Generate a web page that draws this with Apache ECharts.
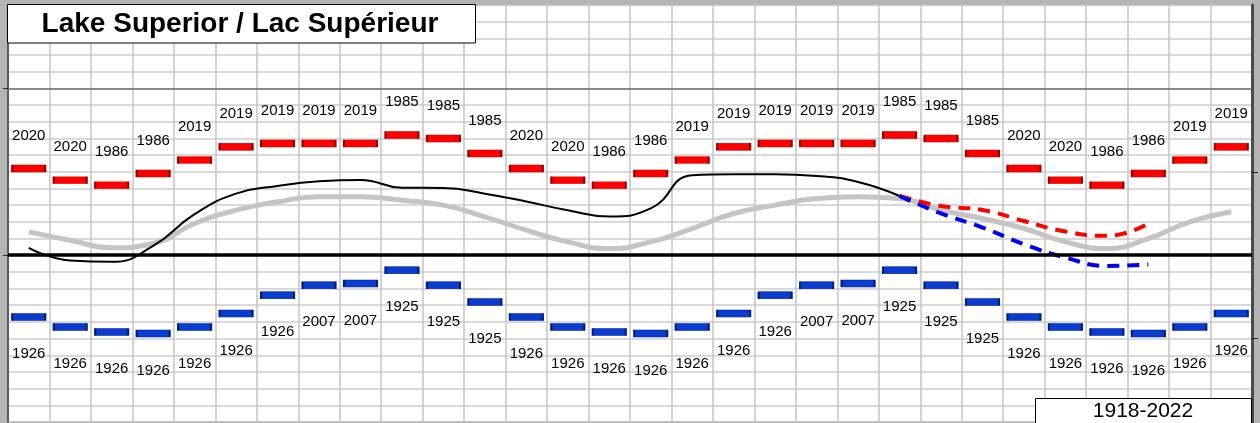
<!DOCTYPE html>
<html>
<head>
<meta charset="utf-8">
<script src="https://cdn.jsdelivr.net/npm/echarts@6/dist/echarts.min.js"></script>
<style>
html,body{margin:0;padding:0;background:#b4b4b4;}
#c{width:1260px;height:423px;}
</style>
</head>
<body>
<div id="c"></div>
<script>
// Months shown (30 columns), water levels in metres
const categories = [
  'Jan Y1','Feb Y1','Mar Y1','Apr Y1','May Y1','Jun Y1','Jul Y1','Aug Y1','Sep Y1','Oct Y1','Nov Y1','Dec Y1',
  'Jan Y2','Feb Y2','Mar Y2','Apr Y2','May Y2','Jun Y2','Jul Y2','Aug Y2','Sep Y2','Oct Y2','Nov Y2','Dec Y2',
  'Jan Y3','Feb Y3','Mar Y3','Apr Y3','May Y3','Jun Y3'
];
const recordHigh = [
  183.72,183.65,183.62,183.69,183.77,183.85,183.87,183.87,183.87,183.92,183.90,183.81,
  183.72,183.65,183.62,183.69,183.77,183.85,183.87,183.87,183.87,183.92,183.90,183.81,
  183.72,183.65,183.62,183.69,183.77,183.85
];
const recordHighYear = [
  '2020','2020','1986','1986','2019','2019','2019','2019','2019','1985','1985','1985',
  '2020','2020','1986','1986','2019','2019','2019','2019','2019','1985','1985','1985',
  '2020','2020','1986','1986','2019','2019'
];
const recordLow = [
  182.83,182.77,182.74,182.73,182.77,182.85,182.96,183.02,183.03,183.11,183.02,182.92,
  182.83,182.77,182.74,182.73,182.77,182.85,182.96,183.02,183.03,183.11,183.02,182.92,
  182.83,182.77,182.74,182.73,182.77,182.85
];
const recordLowYear = [
  '1926','1926','1926','1926','1926','1926','1926','2007','2007','1925','1925','1925',
  '1926','1926','1926','1926','1926','1926','1926','2007','2007','1925','1925','1925',
  '1926','1926','1926','1926','1926','1926'
];
const average = [
  183.34,183.29,183.245,183.27,183.39,183.47,183.52,183.55,183.55,183.53,183.50,183.43,
  183.35,183.28,183.24,183.28,183.36,183.45,183.50,183.54,183.55,183.54,183.47,183.42,
  183.36,183.28,183.24,183.30,183.40,183.46
];
const actual = [
  183.244,183.168,183.160,183.256,183.446,183.569,183.615,183.643,183.651,183.605,183.603,183.569,
  183.522,183.469,183.432,183.481,183.679,183.685,183.685,183.675,183.639,183.555,
  null,null,null,null,null,null,null,null
];
const forecastHigh = [
  null,null,null,null,null,null,null,null,null,null,null,null,
  null,null,null,null,null,null,null,null,null,183.555,
  183.495,183.471,183.405,183.342,183.316,183.390,null,null
];
const forecastLow = [
  null,null,null,null,null,null,null,null,null,null,null,null,
  null,null,null,null,null,null,null,null,null,183.555,
  183.451,183.366,183.266,183.186,183.136,183.144,null,null
];
const chartDatum = 183.2;
const majorLine = 184.2;
const leftTicks = [183.2, 184.2];
const rightTicks = [182.7, 183.7];
const titleText = 'Lake Superior / Lac Supérieur';
const periodText = '1918-2022';

const FONT = 'Arial, "Liberation Sans", sans-serif';
const chart = echarts.init(document.getElementById('c'));
chart.setOption({
  backgroundColor: '#b4b4b4',
  animation: false,
  grid: {left: 8, right: 8, top: 5, height: 417, show: true, backgroundColor: '#ffffff',
         borderColor: '#5a5a5a', borderWidth: 1},
  xAxis: {
    type: 'category', data: categories, boundaryGap: true,
    axisLine: {show: false}, axisTick: {show: false}, axisLabel: {show: false},
    splitLine: {show: true, interval: 0, lineStyle: {color: '#c4c4c4', width: 1.5}}
  },
  yAxis: [{
    type: 'value', min: 182.2, max: 184.7, interval: 0.1, position: 'left',
    axisLine: {show: true, lineStyle: {color: '#3c3c3c', width: 1.5}},
    axisTick: {show: false},
    axisLabel: {show: false},
    splitLine: {show: true, lineStyle: {color: '#cdcdcd', width: 1.5}}
  }, {
    type: 'value', min: 182.2, max: 184.7, interval: 0.1, position: 'right',
    axisLine: {show: true, lineStyle: {color: '#4a4a4a', width: 3}},
    axisTick: {show: true, customValues: rightTicks, length: 6, lineStyle: {color: '#222', width: 1}},
    axisLabel: {show: false},
    splitLine: {show: false}
  }, {
    type: 'value', min: 182.2, max: 184.7, interval: 0.1, position: 'left',
    axisLine: {show: false},
    axisTick: {show: true, customValues: leftTicks, length: 5, lineStyle: {color: '#222', width: 1}},
    axisLabel: {show: false},
    splitLine: {show: false}
  }],
  series: [
    {
      name: 'Average', type: 'line', data: average, smooth: true, symbol: 'none', z: 2,
      lineStyle: {color: '#c4c4c4', width: 5},
      markLine: {
        silent: true, symbol: 'none', label: {show: false},
        data: [
          {yAxis: majorLine, lineStyle: {color: '#6e6e6e', width: 1.5, type: 'solid'}},
          {yAxis: chartDatum, lineStyle: {color: '#000000', width: 3.5, type: 'solid'}}
        ]
      }
    },
    {
      name: 'Actual', type: 'line', data: actual, smooth: true, symbol: 'none', z: 4,
      lineStyle: {color: '#000000', width: 2}
    },
    {
      name: 'Forecast high', type: 'line', data: forecastHigh, smooth: true, symbol: 'none', z: 3,
      lineStyle: {color: '#ff0000', width: 4, type: [12, 8]}
    },
    {
      name: 'Forecast low', type: 'line', data: forecastLow, smooth: true, symbol: 'none', z: 3,
      lineStyle: {color: '#0000ee', width: 4, type: [12, 8]}
    },
    {
      name: 'Record high', type: 'scatter', data: recordHigh, symbol: 'rect', symbolSize: [33, 7], z: 5,
      itemStyle: {color: '#ff0000', borderColor: '#9a0000', borderWidth: 1, opacity: 1},
      label: {show: true, position: 'inside', offset: [0, -33], color: '#000', fontSize: 15, fontFamily: FONT,
              formatter: p => recordHighYear[p.dataIndex]}
    },
    {
      name: 'Record low', type: 'scatter', data: recordLow, symbol: 'rect', symbolSize: [33, 7], z: 5,
      itemStyle: {color: '#0a3cd2', borderColor: '#001e80', borderWidth: 1, opacity: 1},
      label: {show: true, position: 'inside', offset: [0, 37], color: '#000', fontSize: 15, fontFamily: FONT,
              formatter: p => recordLowYear[p.dataIndex]}
    }
  ],
  graphic: [
    {type: 'rect', z: 100, shape: {x: 7.5, y: 4.5, width: 468, height: 38.5},
     style: {fill: '#ffffff', stroke: '#000000', lineWidth: 1}},
    {type: 'text', z: 101, x: 240, y: 24.5,
     style: {text: titleText, font: 'bold 28px ' + FONT, fill: '#000', align: 'center', verticalAlign: 'middle'}},
    {type: 'rect', z: 100, shape: {x: 1035.5, y: 398.5, width: 216, height: 26},
     style: {fill: '#ffffff', stroke: '#000000', lineWidth: 1}},
    {type: 'text', z: 101, x: 1143, y: 411.5,
     style: {text: periodText, font: '21px ' + FONT, fill: '#000', align: 'center', verticalAlign: 'middle'}}
  ]
});
</script>
</body>
</html>
